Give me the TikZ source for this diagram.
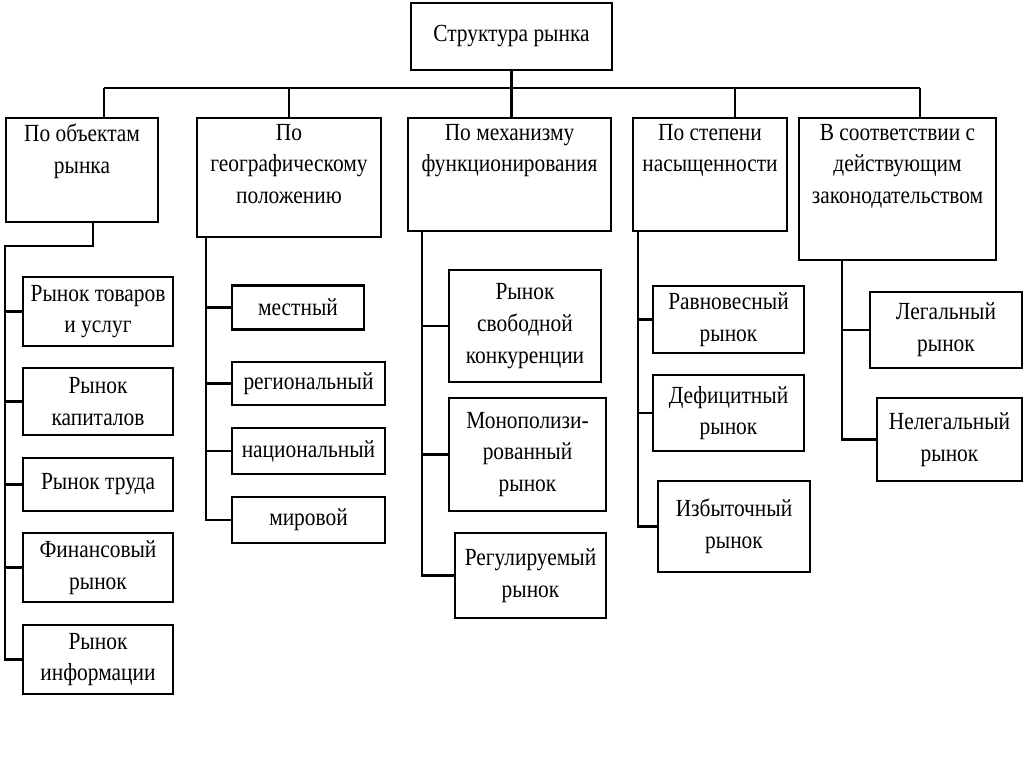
\documentclass[tikz,border=0pt]{standalone}
\usepackage{fontspec}
\setmainfont{Liberation Serif}[FakeStretch=0.87]
\begin{document}
\begin{tikzpicture}[
        x=0.02cm, y=-0.02cm,
        every node/.style={font=\fontsize{14}{18}\selectfont},
        box/.style={rectangle, draw, line width=1.4pt, align=center, inner sep=2pt},
        head/.style={anchor=north, align=center, inner sep=4pt},
        line/.style={line width=1.4pt}
      ]
      \useasboundingbox (0,0) rectangle (1024,767);
      \node[box, minimum width=4.02cm, minimum height=1.34cm] (root) at (511.5,36.5) {Структура рынка};

      \node[box, minimum width=3.04cm, minimum height=2.08cm, label={[head]north:{По объектам\\рынка}}] (obj) at (82,170) {};
      \node[box, minimum width=3.68cm, minimum height=2.38cm, label={[head]north:{По\\географическому\\положению}}] (geo) at (289,177.5) {};
      \node[box, minimum width=4.06cm, minimum height=2.26cm, label={[head]north:{По механизму\\функционирования}}] (mech) at (509.5,174.5) {};
      \node[box, minimum width=3.08cm, minimum height=2.26cm, label={[head]north:{По степени\\насыщенности}}] (sat) at (710,174.5) {};
      \node[box, minimum width=3.94cm, minimum height=2.84cm, label={[head]north:{В соответствии с\\действующим\\законодательством}}] (law) at (897.5,189) {};

      \node[box, minimum width=3.00cm, minimum height=1.38cm] (tovary) at (98,311.5) {Рынок товаров\\и услуг};
      \node[box, minimum width=3.00cm, minimum height=1.34cm] (kapital) at (98,401.5) {Рынок\\капиталов};
      \node[box, minimum width=3.00cm, minimum height=1.06cm] (trud) at (98,484.5) {Рынок труда};
      \node[box, minimum width=3.00cm, minimum height=1.38cm] (finans) at (98,567.5) {Финансовый\\рынок};
      \node[box, minimum width=3.00cm, minimum height=1.38cm] (inform) at (98,659.5) {Рынок\\информации};

      \node[box, minimum width=2.64cm, minimum height=0.88cm] (local) at (298,307.5) {местный};
      \node[box, minimum width=3.06cm, minimum height=0.86cm] (region) at (308.5,383.5) {региональный};
      \node[box, minimum width=3.06cm, minimum height=0.92cm] (nation) at (308.5,451) {национальный};
      \node[box, minimum width=3.06cm, minimum height=0.92cm] (world) at (308.5,520) {мировой};

      \node[box, minimum width=3.04cm, minimum height=2.24cm] (free) at (525,326) {Рынок\\свободной\\конкуренции};
      \node[box, minimum width=3.14cm, minimum height=2.26cm] (monop) at (527.5,454.5) {Монополизи-\\рованный\\рынок};
      \node[box, minimum width=3.02cm, minimum height=1.70cm] (regul) at (530.5,575.5) {Регулируемый\\рынок};

      \node[box, minimum width=3.02cm, minimum height=1.34cm] (equil) at (728.5,319.5) {Равновесный\\рынок};
      \node[box, minimum width=3.02cm, minimum height=1.52cm] (deficit) at (728.5,413) {Дефицитный\\рынок};
      \node[box, minimum width=3.04cm, minimum height=1.82cm] (surplus) at (734,526.5) {Избыточный\\рынок};

      \node[box, minimum width=3.04cm, minimum height=1.52cm] (legal) at (946,330) {Легальный\\рынок};
      \node[box, minimum width=2.90cm, minimum height=1.66cm] (illegal) at (949.5,439.5) {Нелегальный\\рынок};

      \coordinate (busL) at (104,88);
      \coordinate (busR) at (920,88);
      \coordinate (busS) at (735,88);
      \draw[line] (busL) -- (busR);
      \draw[line] (busL) -- (busL |- obj.north);
      \draw[line] (geo.north) -- (geo.north |- busL);
      \draw[line] (root.south) -- (root.south |- mech.north);
      \draw[line] (busS) -- (busS |- sat.north);
      \draw[line] (busR) -- (busR |- law.north);

      \coordinate (objL) at (5,246);
      \draw[line] ([xshift=0.22cm]obj.south) |- (objL) |- (inform.west);
      \foreach \n in {tovary,kapital,trud,finans}
        \draw[line] (\n.west) -- (\n.west -| objL);

      \coordinate (geoL) at ([xshift=0.2cm]geo.south west);
      \draw[line] (geoL) |- (world.west);
      \foreach \n in {local,region,nation}
        \draw[line] (\n.west) -- (\n.west -| geoL);

      \coordinate (mechL) at ([xshift=0.3cm]mech.south west);
      \draw[line] (mechL) |- (regul.west);
      \foreach \n in {free,monop}
        \draw[line] (\n.west) -- (\n.west -| mechL);

      \coordinate (satL) at ([xshift=0.12cm]sat.south west);
      \draw[line] (satL) |- (surplus.west);
      \foreach \n in {equil,deficit}
        \draw[line] (\n.west) -- (\n.west -| satL);

      \coordinate (lawL) at ([xshift=0.88cm]law.south west);
      \draw[line] (lawL) |- (illegal.west);
      \draw[line] (legal.west) -- (legal.west -| lawL);
    \end{tikzpicture}
\end{document}
